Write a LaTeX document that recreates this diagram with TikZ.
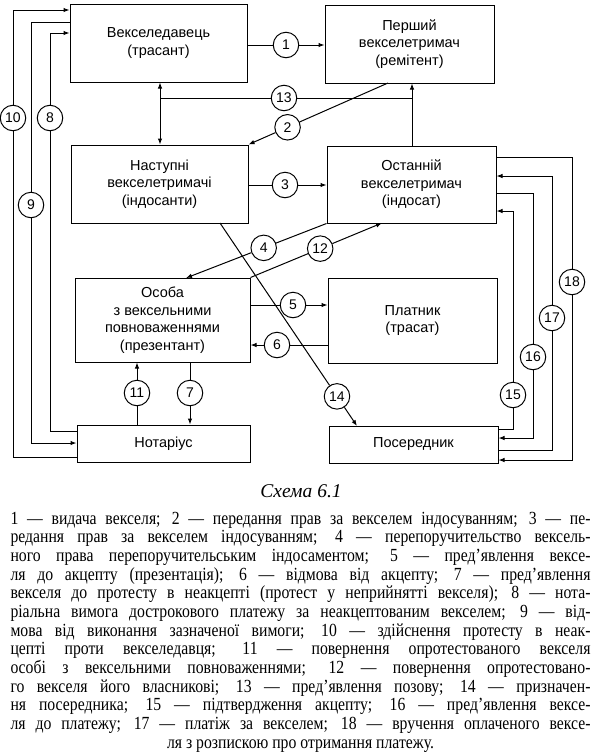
\documentclass[tikz,border=0pt]{standalone}
\usepackage{fontspec}
\setmainfont{Liberation Serif}
\newfontfamily\dsans{Liberation Sans}
\newfontfamily\legendfont[FakeStretch=0.85]{Liberation Serif}
\usetikzlibrary{arrows.meta,calc}
\newcommand{\jline}[1]{\hbox to 580pt{#1}}
\newcommand{\centline}[1]{\hbox to 580pt{\hfil #1\hfil}}
\begin{document}
\begin{tikzpicture}[x=1pt,y=-1pt, line width=1pt,
  box/.style={draw, inner sep=2pt, align=center, font=\dsans\fontsize{14.5}{17.5}\selectfont},
  num/.style={draw, circle, minimum size=25.5pt, inner sep=0pt, font=\dsans\fontsize{14}{14}\selectfont},
  arr/.style={-{Latex[length=6pt,width=4.5pt]}},
  darr/.style={{Latex[length=6pt,width=4.5pt]}-{Latex[length=6pt,width=4.5pt]}}]
\useasboundingbox (0,0) rectangle (598,756);

% boxes
\node[box, minimum width=177pt, minimum height=78pt] (A) at (158.5,43) {Векселедавець\\(трасант)};
\node[box, minimum width=169pt, minimum height=78pt] (B) at (409.5,44) {Перший\\векселетримач\\(ремітент)};
\node[box, minimum width=177pt, minimum height=78pt] (C) at (159.5,184) {Наступні\\векселетримачі\\(індосанти)};
\node[box, minimum width=169pt, minimum height=77pt] (D) at (411.5,184.5) {Останній\\векселетримач\\(індосат)};
\node[box, minimum width=175pt, minimum height=84pt] (E) at (162.5,320) {Особа\\з вексельними\\повноваженнями\\(презентант)};
\node[box, minimum width=169pt, minimum height=85pt] (F) at (412.5,320.5) {Платник\\(трасат)};
\node[box, minimum width=173pt, minimum height=37pt] (G) at (163.5,443.5) {Нотаріус};
\node[box, minimum width=169pt, minimum height=37pt] (H) at (413.5,444.5) {Посередник};

% helper coordinates
\coordinate (s2) at (388,83);
\coordinate (e4) at (186,278);
\coordinate (d12) at (382,223);
\coordinate (c14) at (220,223);
\coordinate (h14) at (357,426);
\coordinate (j13l) at (160,98);
\coordinate (j13r) at (412,98);

% number circles
\node[num] (n1) at (286,45) {1};
\node[num] (n2) at ($(s2)!0.72!(C.north east)$) {2};
\node[num] (n3) at (285,185) {3};
\node[num] (n4) at ($(D.south west)!0.447!(e4)$) {4};
\node[num] (n5) at (293,305) {5};
\node[num] (n6) at (277,345) {6};
\node[num] (n7) at (190,393) {7};
\node[num] (n8) at (50,118) {8};
\node[num] (n9) at (31,205) {9};
\node[num] (n10) at (13,118) {10};
\node[num] (n11) at (137,393) {11};
\node[num] (n12) at ($(E.north east)!0.53!(d12)$) {12};
\node[num] (n13) at (284,98) {13};
\node[num] (n14) at ($(c14)!0.854!(h14)$) {14};
\node[num] (n15) at (513,395) {15};
\node[num] (n16) at (533,357) {16};
\node[num] (n17) at (552,318) {17};
\node[num] (n18) at (572,282) {18};

% 1
\draw (A.east |- n1) -- (n1);
\draw[arr] (n1) -- (n1 -| B.west);
% 2
\draw (s2) -- (n2);
\draw[arr] (n2) -- (C.north east);
% 3
\draw (C.east |- n3) -- (n3);
\draw[arr] (n3) -- (n3 -| D.west);
% 4
\draw (D.south west) -- (n4);
\draw[arr] (n4) -- (e4);
% 12
\draw (E.north east) -- (n12);
\draw[arr] (n12) -- (d12);
% 5
\draw (E.east |- n5) -- (n5);
\draw[arr] (n5) -- (n5 -| F.west);
% 6
\draw (F.west |- n6) -- (n6);
\draw[arr] (n6) -- (n6 -| E.east);
% 7
\draw (E.south -| n7) -- (n7);
\draw[arr] (n7) -- (n7 |- G.north);
% 11
\draw (G.north -| n11) -- (n11);
\draw[arr] (n11) -- (n11 |- E.south);
% 13
\draw[darr] (A.south -| j13l) -- (C.north -| j13l);
\draw (j13l) -- (n13) -- (j13r);
\draw[arr] (D.north -| j13r) -- (B.south -| j13r);
% 14
\draw (c14) -- (n14);
\draw[arr] (n14) -- (h14);

% left side
\coordinate (k10a) at (13,457); \coordinate (k10b) at (13,10);
\draw (k10a -| G.west) -- (k10a) -- (n10);
\draw[arr] (n10) -- (k10b) -- (k10b -| A.west);
\coordinate (k9a) at (31,22); \coordinate (k9b) at (31,443);
\draw (k9a -| A.west) -- (k9a) -- (n9);
\draw[arr] (n9) -- (k9b) -- (k9b -| G.west);
\coordinate (k8a) at (50,431); \coordinate (k8b) at (50,33);
\draw (k8a -| G.west) -- (k8a) -- (n8);
\draw[arr] (n8) -- (k8b) -- (k8b -| A.west);

% right side
\coordinate (k18a) at (572,157); \coordinate (k18b) at (572,460);
\draw (k18a -| D.east) -- (k18a) -- (n18);
\draw[arr] (n18) -- (k18b) -- (k18b -| H.east);
\coordinate (k17a) at (552,450); \coordinate (k17b) at (552,176);
\draw (k17a -| H.east) -- (k17a) -- (n17);
\draw[arr] (n17) -- (k17b) -- (k17b -| D.east);
\coordinate (k16a) at (533,193); \coordinate (k16b) at (533,438);
\draw (k16a -| D.east) -- (k16a) -- (n16);
\draw[arr] (n16) -- (k16b) -- (k16b -| H.east);
\coordinate (k15a) at (513,429); \coordinate (k15b) at (513,211);
\draw (k15a -| H.east) -- (k15a) -- (n15);
\draw[arr] (n15) -- (k15b) -- (k15b -| D.east);

% caption
\node[anchor=base, inner sep=0pt, font=\itshape\fontsize{19.5}{22}\selectfont] (cap) at (301,497) {Схема 6.1};

% legend
\node[anchor=base west, inner sep=0pt] (legend) at (10,524) {\vtop{\legendfont\fontsize{18.5}{18.67}\selectfont
\baselineskip=18.67pt \lineskiplimit=-20pt
\jline{1 — видача векселя; 2 — передання прав за векселем індосуванням; 3 — пе-}
\jline{редання прав за векселем індосуванням; 4 — перепоручительство вексель-}
\jline{ного права перепоручительським індосаментом; 5 — пред’явлення вексе-}
\jline{ля до акцепту (презентація); 6 — відмова від акцепту; 7 — пред’явлення}
\jline{векселя до протесту в неакцепті (протест у неприйнятті векселя); 8 — нота-}
\jline{ріальна вимога дострокового платежу за неакцептованим векселем; 9 — від-}
\jline{мова від виконання зазначеної вимоги; 10 — здійснення протесту в неак-}
\jline{цепті проти векселедавця; 11 — повернення опротестованого векселя}
\jline{особі з вексельними повноваженнями; 12 — повернення опротестовано-}
\jline{го векселя його власникові; 13 — пред’явлення позову; 14 — призначен-}
\jline{ня посередника; 15 — підтвердження акцепту; 16 — пред’явлення вексе-}
\jline{ля до платежу; 17 — платіж за векселем; 18 — вручення оплаченого вексе-}
\centline{ля з розпискою про отримання платежу.}}};
\end{tikzpicture}
\end{document}
